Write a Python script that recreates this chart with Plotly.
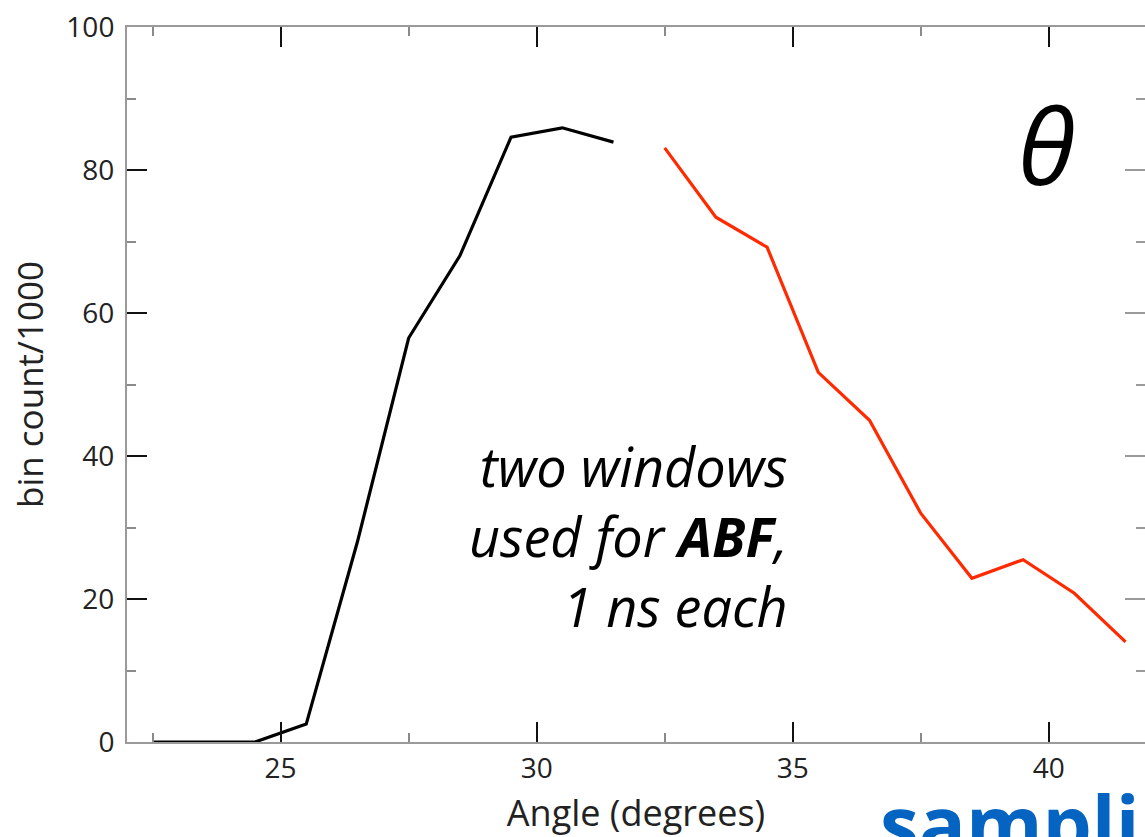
import plotly.graph_objects as go

# Histogram of the angle theta for the two sampling windows (bin count / 1000)
window1_angle = [22.5, 23.5, 24.5, 25.5, 26.5, 27.5, 28.5, 29.5, 30.5, 31.5]
window1_count = [0.0, 0.0, 0.0, 2.5, 28.0, 56.5, 68.0, 84.6, 85.9, 83.9]

window2_angle = [32.5, 33.5, 34.5, 35.5, 36.5, 37.5, 38.5, 39.5, 40.5, 41.5]
window2_count = [83.1, 73.4, 69.2, 51.7, 45.0, 32.0, 22.9, 25.5, 20.8, 14.0]

x_major_ticks = [25, 30, 35, 40]
y_major_ticks = [0, 20, 40, 60, 80, 100]

FONT = "Open Sans"
AXIS_GRAY = "#9a9a9a"

fig = go.Figure()
fig.add_trace(go.Scatter(x=window1_angle, y=window1_count, mode="lines",
                         line=dict(color="#000000", width=3.2), xaxis="x", yaxis="y"))
fig.add_trace(go.Scatter(x=window2_angle, y=window2_count, mode="lines",
                         line=dict(color="#ff2a00", width=3.2), xaxis="x", yaxis="y"))

axis_common = dict(
    ticks="inside", ticklen=20, tickwidth=2, tickcolor="#111111",
    showgrid=False, zeroline=False,
    showline=True, linecolor=AXIS_GRAY, linewidth=2,
    tickfont=dict(family=FONT, size=28, color="#222222"),
)

fig.update_layout(
    width=1145, height=837,
    margin=dict(l=127, r=0, t=27, b=95),
    paper_bgcolor="white", plot_bgcolor="white",
    showlegend=False,
    xaxis=dict(
        range=[22, 41.88], tickvals=x_major_ticks, mirror="ticks",
        minor=dict(dtick=2.5, tick0=0, ticks="inside", ticklen=9, tickwidth=2, tickcolor="#8a8a8a"),
        title=dict(text="Angle (degrees)", font=dict(family=FONT, size=36, color="#222222"), standoff=20),
        **axis_common,
    ),
    yaxis=dict(
        range=[0, 100], tickvals=y_major_ticks, mirror=False,
        ticklabelstandoff=5,
        minor=dict(dtick=10, tick0=0, ticks="inside", ticklen=9, tickwidth=2, tickcolor="#8a8a8a"),
        title=dict(text="bin count/1000", font=dict(family=FONT, size=35, color="#222222"), standoff=12),
        **axis_common,
    ),
    yaxis2=dict(
        range=[0, 100], tickvals=y_major_ticks, overlaying="y", side="right",
        ticks="inside", ticklen=20, tickwidth=2, tickcolor="#9a9a9a",
        showticklabels=False, showline=False, showgrid=False, zeroline=False,
        minor=dict(dtick=10, tick0=0, ticks="inside", ticklen=9, tickwidth=2, tickcolor="#9a9a9a"),
    ),
)

# Invisible trace so the right-hand tick axis is drawn
fig.add_trace(go.Scatter(x=[window1_angle[0]], y=[window1_count[0]], mode="lines",
                         line=dict(width=0), yaxis="y2", hoverinfo="skip"))

fig.add_annotation(
    x=34.95, y=44.0, xref="x", yref="y", xanchor="right", yanchor="top", align="right",
    text="<i>two windows<br>used for <b>ABF</b>,<br>1 ns each</i>",
    font=dict(family=FONT, size=54, color="#000000"), showarrow=False,
)
fig.add_annotation(
    x=39.95, y=83.6, xref="x", yref="y", xanchor="center", yanchor="middle",
    text="<i>θ</i>", font=dict(family=FONT, size=105, color="#000000"), showarrow=False,
)
fig.add_annotation(
    x=(878 - 127) / 1018, y=-0.036, xref="paper", yref="paper", xanchor="left", yanchor="top",
    text="<b>sampling</b>", font=dict(family=FONT, size=78, color="#0563c1"), showarrow=False,
)

fig.write_html("out.html")
